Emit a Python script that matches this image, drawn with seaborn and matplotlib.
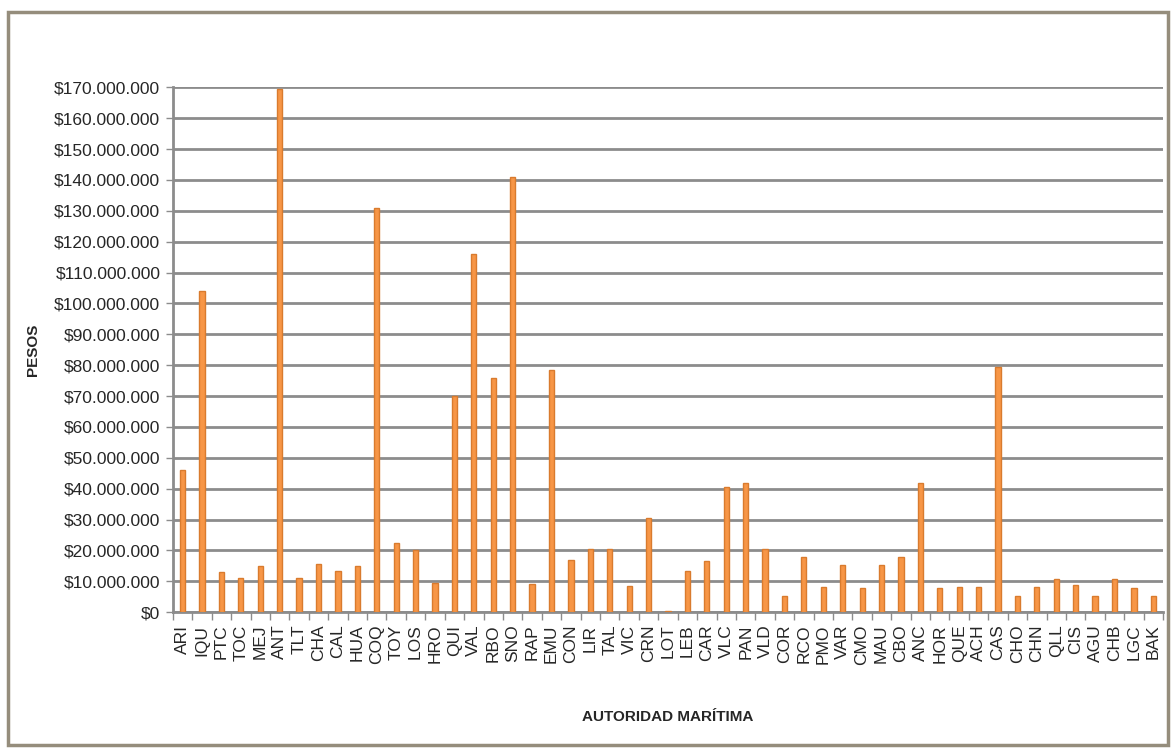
import pandas as pd
import matplotlib.pyplot as plt
import matplotlib.ticker as mticker
from matplotlib.patches import Rectangle
import seaborn as sns

sns.set_theme(style="white")
plt.rcParams['font.family'] = ['Liberation Sans', 'DejaVu Sans']

# Autoridades marítimas y montos (en millones de pesos)
autoridades = ['ARI', 'IQU', 'PTC', 'TOC', 'MEJ', 'ANT', 'TLT', 'CHA', 'CAL', 'HUA',
               'COQ', 'TOY', 'LOS', 'HRO', 'QUI', 'VAL', 'RBO', 'SNO', 'RAP', 'EMU',
               'CON', 'LIR', 'TAL', 'VIC', 'CRN', 'LOT', 'LEB', 'CAR', 'VLC', 'PAN',
               'VLD', 'COR', 'RCO', 'PMO', 'VAR', 'CMO', 'MAU', 'CBO', 'ANC', 'HOR',
               'QUE', 'ACH', 'CAS', 'CHO', 'CHN', 'QLL', 'CIS', 'AGU', 'CHB', 'LGC',
               'BAK']
montos_mm = [46, 104, 13, 11, 15, 169.5, 11, 15.5, 13.5, 15,
             131, 22.5, 20, 9.5, 70, 116, 76, 141, 9, 78.5,
             17, 20.5, 20.5, 8.5, 30.5, 0.4, 13.3, 16.5, 40.5, 42,
             20.5, 5.3, 18, 8.2, 15.2, 7.8, 15.2, 18, 42, 7.8,
             8, 8, 79.5, 5.3, 8, 10.7, 8.8, 5.2, 10.8, 7.8,
             5.2]

df = pd.DataFrame({'Autoridad': autoridades, 'Pesos': [m * 1e6 for m in montos_mm]})

fig = plt.figure(figsize=(11.76, 7.53), dpi=100)
ax = fig.add_axes([0.147, 0.187, 0.842, 0.697])

sns.barplot(data=df, x='Autoridad', y='Pesos', color='#F79646', width=0.27,
            edgecolor='#D97B2E', linewidth=1.0, saturation=1, ax=ax, zorder=3)

# Formatting
ax.set_ylim(0, 170e6)
ax.set_xlim(-0.5, len(autoridades) - 0.5)
ax.yaxis.set_major_locator(mticker.MultipleLocator(10e6))
ax.yaxis.set_major_formatter(mticker.FuncFormatter(lambda v, p: '$' + f'{int(round(v)):,}'.replace(',', '.')))
ax.grid(True, axis='y', color='#8c8c8c', linewidth=2, zorder=0)
ax.set_axisbelow(True)

for side in ['top', 'right']:
    ax.spines[side].set_visible(False)
for side in ['left', 'bottom']:
    ax.spines[side].set_color('#8c8c8c')
    ax.spines[side].set_linewidth(2)

ax.tick_params(axis='y', which='major', left=True, length=5, width=1, color='#8c8c8c',
               labelsize=12.5, pad=4)
ax.tick_params(axis='x', which='major', bottom=False, labelsize=12.5, labelrotation=90, pad=3)
ax.set_xticks([i + 0.5 for i in range(-1, len(autoridades))], minor=True)
ax.tick_params(axis='x', which='minor', bottom=True, length=6, width=1, color='#8c8c8c')

ax.set_xlabel('AUTORIDAD MARÍTIMA', fontsize=11, fontweight='bold', labelpad=32)
ax.set_ylabel('PESOS', fontsize=11, fontweight='bold', labelpad=10)

# Outer chart border
fig.patches.append(Rectangle((0.007, 0.011), 0.986, 0.973, transform=fig.transFigure,
                             fill=False, edgecolor='#958d7c', linewidth=2.5))

plt.savefig('out.png', dpi=100)
